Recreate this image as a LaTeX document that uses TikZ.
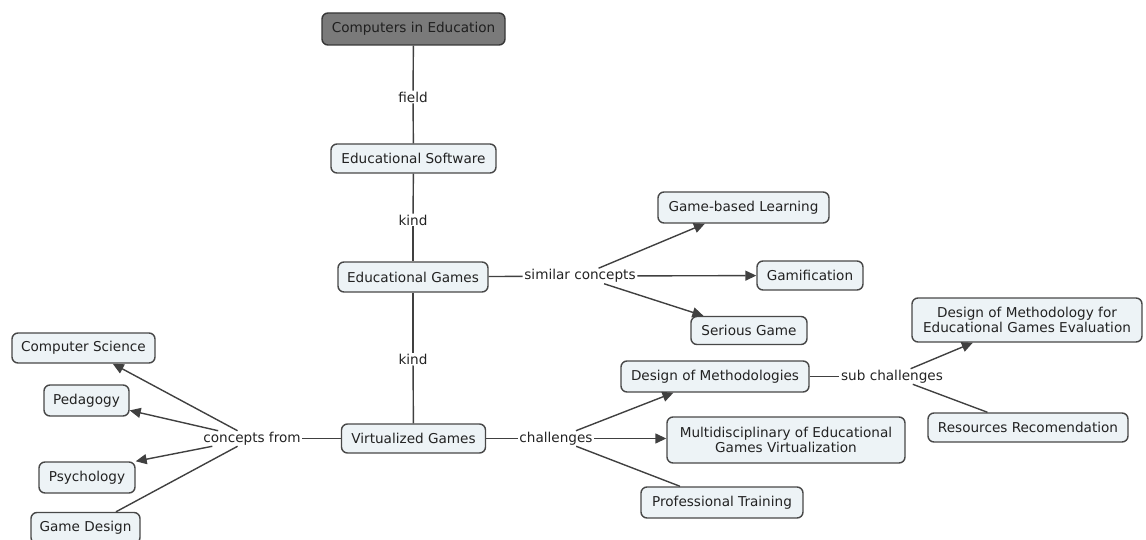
\documentclass[tikz,border=0pt]{standalone}
\usepackage{fontspec}
\setmainfont{DejaVu Sans}
\usetikzlibrary{arrows.meta}
\definecolor{boxfill}{RGB}{237,243,246}
\definecolor{boxline}{RGB}{72,72,72}
\definecolor{linkc}{RGB}{64,64,64}
\definecolor{txt}{RGB}{34,34,34}
\definecolor{topfill}{RGB}{122,122,122}
\definecolor{topline}{RGB}{55,55,55}
\begin{document}
\begin{tikzpicture}[x=1pt,y=-1pt,
  concept/.style={draw=boxline, fill=boxfill, line width=1.4pt, rounded corners=6pt,
    text=txt, font=\fontsize{13.6}{15.5}\selectfont, inner xsep=2pt, inner ysep=0pt, align=center},
  topconcept/.style={concept, draw=topline, fill=topfill, text=black!88},
  linklbl/.style={text=txt, font=\fontsize{13.6}{15.5}\selectfont, inner xsep=1.5pt, inner ysep=1pt},
  conn/.style={draw=linkc, line width=1.4pt},
  arr/.style={conn, -{Triangle[length=11pt,width=10pt]}}]
\useasboundingbox (0,0) rectangle (1146,540);

% concepts
\node[topconcept, minimum width=183pt, minimum height=32pt] (cie) at (413.5,29) {Computers in Education};
\node[concept, minimum width=165pt, minimum height=29pt] (es) at (413.5,158.5) {Educational Software};
\node[concept, minimum width=150pt, minimum height=30pt] (eg) at (413,277) {Educational Games};
\node[concept, minimum width=144pt, minimum height=29pt] (vg) at (413.5,438.5) {Virtualized Games};
\node[concept, minimum width=171pt, minimum height=31pt] (gbl) at (743.5,207.5) {Game-based Learning};
\node[concept, minimum width=106pt, minimum height=29pt] (gam) at (810,275.5) {Gamification};
\node[concept, minimum width=116pt, minimum height=28pt] (sg) at (749,330.5) {Serious Game};
\node[concept, minimum width=230pt, minimum height=44pt] (dmfe) at (1027,320) {Design of Methodology for\\Educational Games Evaluation};
\node[concept, minimum width=188pt, minimum height=31pt] (dm) at (715,376.5) {Design of Methodologies};
\node[concept, minimum width=238pt, minimum height=46pt] (mul) at (786,440) {Multidisciplinary of Educational\\Games Virtualization};
\node[concept, minimum width=200pt, minimum height=29pt] (rr) at (1028,427.5) {Resources Recomendation};
\node[concept, minimum width=162pt, minimum height=31pt] (pt) at (722,502.5) {Professional Training};
\node[concept, minimum width=143pt, minimum height=30pt] (cs) at (83.5,348) {Computer Science};
\node[concept, minimum width=85pt, minimum height=31pt] (ped) at (86.5,400.5) {Pedagogy};
\node[concept, minimum width=96pt, minimum height=31pt] (psy) at (87,477.5) {Psychology};
\node[concept, minimum width=109pt, minimum height=31pt] (gd) at (85.5,528) {Game Design};

% link labels
\node[linklbl] (field) at (413,97) {field};
\node[linklbl] (kind1) at (413,220) {kind};
\node[linklbl] (kind2) at (413,359) {kind};
\node[linklbl] (sim) at (580,276) {similar concepts};
\node[linklbl] (cf) at (252,438.5) {concepts from};
\node[linklbl] (ch) at (556,438.5) {challenges};
\node[linklbl] (sub) at (892,376.5) {sub challenges};

% connectors
\draw[conn] (cie) -- (field);
\draw[conn] (field) -- (es);
\draw[conn] (es) -- (kind1);
\draw[conn] (kind1) -- (eg);
\draw[conn] (eg) -- (kind2);
\draw[conn] (kind2) -- (vg);

\draw[conn] (eg) -- (sim);
\draw[arr] (sim) -- (gbl);
\draw[arr] (sim) -- (gam);
\draw[arr] (sim) -- (sg);

\draw[conn] (vg) -- (cf);
\draw[arr] (cf) -- (cs);
\draw[arr] (cf) -- (ped);
\draw[arr] (cf) -- (psy.north east);
\draw[conn] (cf) -- (gd.28);

\draw[conn] (vg) -- (ch);
\draw[arr] (ch) -- (dm);
\draw[arr] (ch) -- (mul.west |- ch);
\draw[conn] (ch) -- (pt);

\draw[conn] (dm) -- (sub);
\draw[arr] (sub) -- (dmfe);
\draw[conn] (sub) -- (rr);
\end{tikzpicture}
\end{document}
